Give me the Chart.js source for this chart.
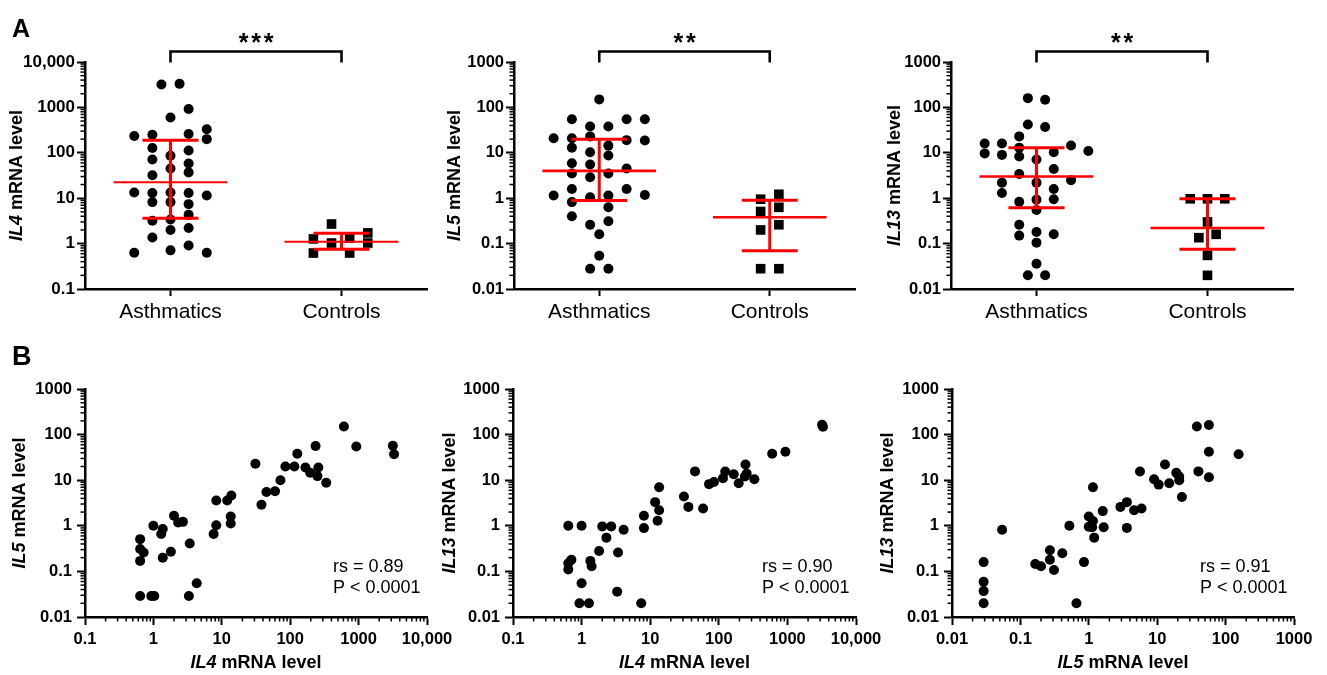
<!DOCTYPE html>
<html><head><meta charset="utf-8">
<script src="https://cdn.jsdelivr.net/npm/chart.js@4"></script>
<style>
html,body{margin:0;padding:0;background:#fff}
#wrap{position:relative;width:1327px;height:675px;overflow:hidden;background:#fff}
#wrap canvas{position:absolute;left:0;top:0}
</style></head><body>
<div id="wrap">
<canvas id="a1" width="1327" height="675"></canvas>
<canvas id="a2" width="1327" height="675"></canvas>
<canvas id="a3" width="1327" height="675"></canvas>
<canvas id="b1" width="1327" height="675"></canvas>
<canvas id="b2" width="1327" height="675"></canvas>
<canvas id="b3" width="1327" height="675"></canvas>
</div>
<script>
// ---------- DATA ----------
const groups = ['Asthmatics', 'Controls'];

// Panel A: IL4
const il4Asthma = [3200,3300,920,600,330,200,235,250,260,128,112,86,71,58,45,37,32,13.4,13,13.4,13,11.5,8.2,8.2,7.4,4.3,3.2,3.4,2.2,2.0,1.36,0.91,0.71,0.63,0.63];
const il4AsthmaSlot = [-0.5,0.5,1,0,2,2,-2,-1,1,-1,1,0,-1,1,0,1,-1,-2,-1,0,1,2,-1,0,1,1,-1,0,1,0,-1,1,0,-2,2];
const il4Control = [1.27,0.62,2.7,1.03,1.33,0.62,1.72,1.03];
const il4ControlSlot = [-1.55,-1.55,-0.55,-0.55,0.45,0.45,1.45,1.45];
const il4Median = [22.5, 1.1];
const il4Q1 = [3.6, 0.75];
const il4Q3 = [190, 1.69];

// Panel A: IL5
const il5Asthma = [150,55,55,55,38,38,21,21,23,19,18.6,14.4,13,10.3,8.7,5.9,5.5,4.5,3.5,3.5,2.9,1.15,1.18,1.15,1.05,1.6,1.6,0.82,0.63,0.40,0.26,0.31,0.16,0.054,0.028,0.028];
const il5AsthmaSlot = [0,-1.5,1.5,2.5,-0.5,0.5,-2.5,-1.5,-0.5,1.5,2.5,0.5,-1.5,-0.5,0.5,-1.5,-0.5,1.5,-1.5,0.5,-0.5,-2.5,2.5,0.5,-0.5,1.5,-1.5,-1.5,0.5,-1.5,-0.5,0.5,0,0,-0.5,0.5];
const il5Control = [0.95,1.22,0.51,0.63,0.2,0.26,0.028,0.028];
const il5ControlSlot = [-0.5,0.5,-0.5,0.5,-0.5,0.5,-0.5,0.5];
const il5Median = [4.0, 0.38];
const il5Q1 = [0.89, 0.07];
const il5Q3 = [20, 0.9];

// Panel A: IL13
const il13Asthma = [160,148,42,37,23,16,16,14.5,13,9.7,9,8.3,10.3,11,7.1,4.4,3.4,2.5,2.2,2.2,1.6,1.3,0.83,0.93,0.95,0.55,0.26,0.15,0.18,0.16,0.105,0.036,0.02,0.02];
const il13AsthmaSlot = [-0.5,0.5,-0.5,0.5,-1,-3,-2,2,-1,-3,-2,-1,1,3,0,1,-1,2,-2,0,1,-2,-1,0,1,0,-1,-1,0,1,0,0,-0.5,0.5];
const il13Control = [0.97,0.97,0.97,0.3,0.135,0.16,0.055,0.02];
const il13ControlSlot = [-1,0,1,0,-0.5,0.5,0,0];
const il13Median = [3.0, 0.22];
const il13Q1 = [0.62, 0.075];
const il13Q3 = [13, 0.97];

// Panel B: correlations
const b1IL4 = [610,925,3170,3300,235,127,31,85,115,167,196,258,250,336,72,45,60,38,8.3,12,13.8,13.5,13.5,8.3,7.6,2.0,2.3,2.7,1.0,1.37,1.3,3.4,0.64,0.64,0.72,1.8,1.37,0.64,4.3,0.64,0.93,1.03,3.3];
const b1IL5 = [150,55,57,37,56,38,23,20,20,19,14.6,19,12.3,8.8,10,5.5,5.7,2.9,3.6,3.6,4.6,1.6,1.12,1.03,0.66,1.66,1.18,1.22,1.0,0.85,0.66,0.41,0.51,0.31,0.26,0.27,0.20,0.17,0.055,0.029,0.029,0.029,0.029];
const b2IL4 = [3200,3300,600,935,45,245,124,165,255,240,330,115,85,72,195,13.5,31,36,59,11.8,13.5,12.8,8.1,8.1,0.64,1.0,2.0,2.7,4.1,2.3,1.8,3.4,0.71,0.64,0.64,1.34,1.4,1.0,3.3,0.93,1.28,7.4];
const b2IL13 = [165,148,38,42,15.6,22,15.5,13.5,14,12,10.5,11,9.1,8.2,8.6,7.0,4.4,2.6,2.4,3.3,2.2,1.29,1.66,0.89,1.0,1.0,0.97,0.97,0.82,0.55,0.28,0.26,0.18,0.15,0.11,0.17,0.13,0.055,0.036,0.02,0.02,0.02];
const b3IL5 = [57,38,57,155,40,57,13,19,21,21,9,10.5,15,23,5.6,1.15,2.9,3.6,4.6,5.9,3.6,1.6,1.0,1.15,1.0,1.12,1.65,1.2,0.52,0.054,0.41,0.27,0.27,0.31,0.85,0.165,0.20,0.029,0.029,0.029,0.029,0.66];
const b3IL13 = [163,150,42,37,15.6,11.6,22,14.6,12,10,10.5,8,8.6,4.3,15.5,7,2.6,3.3,2.2,2.4,0.9,2.1,1.6,1.27,0.95,0.93,0.93,0.55,1.0,0.82,0.25,0.29,0.18,0.107,0.16,0.145,0.13,0.16,0.059,0.037,0.02,0.02];
const b1Stat = ['rs = 0.89', 'P < 0.0001'];
const b2Stat = ['rs = 0.90', 'P < 0.0001'];
const b3Stat = ['rs = 0.91', 'P < 0.0001'];

// Tick labels
const ticks01to10k = [0.1, 1, 10, 100, 1000, 10000];
const labels01to10k = ['0.1', '1', '10', '100', '1000', '10,000'];
const ticks001to1k = [0.01, 0.1, 1, 10, 100, 1000];
const labels001to1k = ['0.01', '0.1', '1', '10', '100', '1000'];

// ---------- STYLE ----------
const FF = '"Liberation Sans", Arial, Helvetica, sans-serif';
Chart.defaults.font.family = FF;
Chart.defaults.color = '#000';
const RED = '#ff0000';
const YW = 75, XH = 40, PAGE_W = 1327, PAGE_H = 675;
const MED_HW = 0.333, CAP_HW = 0.164;

const deco = {
  id: 'deco',
  afterDraw(chart, args, o) {
    const ctx = chart.ctx, ca = chart.chartArea;
    const xs = chart.scales.x, ys = chart.scales.y;
    ctx.save();
    ctx.strokeStyle = '#000';
    ctx.fillStyle = '#000';
    // minor ticks on log axes
    ctx.lineWidth = 1.5;
    const minor = (scale, horiz) => {
      if (scale.type !== 'logarithmic') return;
      const lo = Math.round(Math.log10(scale.min)), hi = Math.round(Math.log10(scale.max));
      for (let e = lo; e < hi; e++) {
        for (let k = 2; k <= 9; k++) {
          const p = scale.getPixelForValue(k * Math.pow(10, e));
          ctx.beginPath();
          if (horiz) { ctx.moveTo(p, ca.bottom); ctx.lineTo(p, ca.bottom + 4.5); }
          else { ctx.moveTo(ca.left, p); ctx.lineTo(ca.left - 4.5, p); }
          ctx.stroke();
        }
      }
    };
    minor(xs, true);
    minor(ys, false);

    const mixed = (parts, size) => {
      ctx.font = 'italic bold ' + size + 'px ' + FF;
      const w1 = ctx.measureText(parts[0]).width;
      ctx.font = 'bold ' + size + 'px ' + FF;
      const w2 = ctx.measureText(parts[1]).width;
      const x0 = -(w1 + w2) / 2;
      ctx.textAlign = 'left';
      ctx.textBaseline = 'middle';
      ctx.font = 'italic bold ' + size + 'px ' + FF;
      ctx.fillText(parts[0], x0, 0);
      ctx.font = 'bold ' + size + 'px ' + FF;
      ctx.fillText(parts[1], x0 + w1, 0);
    };
    // y title
    if (o.yTitle) {
      ctx.save();
      ctx.translate(ca.left - o.yOff, (ca.top + ca.bottom) / 2);
      ctx.rotate(-Math.PI / 2);
      mixed(o.yTitle, 18);
      ctx.restore();
    }
    // x title
    if (o.xTitle) {
      ctx.save();
      ctx.translate((ca.left + ca.right) / 2, ca.bottom + 46);
      mixed(o.xTitle, 18);
      ctx.restore();
    }
    // significance bracket
    if (o.stars) {
      const x1 = xs.getPixelForValue(1), x2 = xs.getPixelForValue(2);
      const yb = ca.top - 10.5;
      ctx.lineWidth = 2.6;
      ctx.beginPath();
      ctx.moveTo(x1, ca.top + 0.5); ctx.lineTo(x1, yb); ctx.lineTo(x2, yb); ctx.lineTo(x2, ca.top + 0.5);
      ctx.stroke();
      ctx.font = 'bold 25px ' + FF;
      ctx.textAlign = 'center';
      ctx.textBaseline = 'alphabetic';
      const m = ctx.measureText('*');
      const base = (ca.top - 24.5) + (m.actualBoundingBoxAscent - m.actualBoundingBoxDescent) / 2;
      const cx = (x1 + x2) / 2;
      for (let i = 0; i < o.stars; i++) {
        ctx.fillText('*', cx + (i - (o.stars - 1) / 2) * 12.5, base);
      }
    }
    // panel letter
    if (o.letter) {
      ctx.font = 'bold ' + o.letterSize + 'px ' + FF;
      ctx.textAlign = 'left';
      ctx.textBaseline = 'alphabetic';
      ctx.fillText(o.letter, 12, o.letterY);
    }
    // stats text
    if (o.stat) {
      ctx.font = '18px ' + FF;
      ctx.textAlign = 'left';
      ctx.textBaseline = 'middle';
      ctx.fillText(o.stat[0], ca.right - 94, ca.bottom - 50);
      ctx.fillText(o.stat[1], ca.right - 94, ca.bottom - 29);
    }
    ctx.restore();
  }
};

function logAxis(vals, labels, size, pad, fit) {
  return {
    type: 'logarithmic',
    min: vals[0], max: vals[vals.length - 1],
    border: { display: true, width: 2.5, color: '#000' },
    grid: { drawOnChartArea: false, drawTicks: true, tickLength: 8, tickWidth: 2, tickColor: '#000' },
    ticks: { autoSkip: false, maxRotation: 0, padding: pad, color: '#000',
      font: { size: size, weight: 'bold' },
      callback: (v, i) => labels[i] },
    afterBuildTicks: s => { s.ticks = vals.map(v => ({ value: v })); },
    afterFit: fit
  };
}

function lineDs(pts, w) {
  return { type: 'scatter', data: pts.map(p => ({ x: p[0], y: p[1] })), showLine: true,
    borderColor: RED, borderWidth: w, pointRadius: 0, fill: false, clip: false, borderCapStyle: 'butt' };
}
function pointDs(vals, slots, g, step, style, r) {
  return { type: 'scatter', data: vals.map((v, i) => ({ x: g + slots[i] * step, y: v })),
    showLine: false, pointStyle: style, pointRadius: r, pointBackgroundColor: '#000',
    pointBorderWidth: 0, pointBorderColor: '#000', clip: false };
}

function dotPanel(id, rect, p) {
  const ds = [];
  const med = p.med, q1 = p.q1, q3 = p.q3;
  [1, 2].forEach((c, i) => {
    ds.push(lineDs([[c - MED_HW, med[i]], [c + MED_HW, med[i]]], p.medW));
    ds.push(lineDs([[c - CAP_HW, q1[i]], [c + CAP_HW, q1[i]]], 3));
    ds.push(lineDs([[c - CAP_HW, q3[i]], [c + CAP_HW, q3[i]]], 3));
    ds.push(lineDs([[c, q1[i]], [c, q3[i]]], 3));
  });
  ds.push(pointDs(p.asth, p.asthSlot, 1, p.step, 'circle', 5));
  ds.push(pointDs(p.ctrl, p.ctrlSlot, 2, p.step, 'rect', 6.8));
  new Chart(document.getElementById(id), {
    type: 'scatter',
    data: { datasets: ds },
    options: {
      responsive: false, animation: false, events: [],
      layout: { padding: { left: rect.L - YW, top: rect.T, right: PAGE_W - rect.R, bottom: PAGE_H - rect.B - XH } },
      plugins: { legend: { display: false }, tooltip: { enabled: false }, deco: p.deco },
      scales: {
        x: {
          type: 'linear', min: 0.5, max: 2.5,
          border: { display: true, width: 2.5, color: '#000' },
          grid: { drawOnChartArea: false, drawTicks: true, tickLength: 7, tickWidth: 2, tickColor: '#000' },
          ticks: { autoSkip: false, maxRotation: 0, padding: 3.5, color: '#000', font: { size: 21 },
            callback: (v, i) => groups[i] },
          afterBuildTicks: s => { s.ticks = [{ value: 1 }, { value: 2 }]; },
          afterFit: s => { s.height = XH; }
        },
        y: logAxis(p.yTicks, p.yLabels, p.yFont, 2, s => { s.width = YW; })
      }
    },
    plugins: [deco]
  });
}

function corrPanel(id, rect, p) {
  new Chart(document.getElementById(id), {
    type: 'scatter',
    data: { datasets: [{ data: p.x.map((v, i) => ({ x: v, y: p.y[i] })), pointRadius: 5,
      pointBackgroundColor: '#000', pointBorderWidth: 0, showLine: false, clip: false }] },
    options: {
      responsive: false, animation: false, events: [],
      layout: { padding: { left: rect.L - YW, top: rect.T, right: PAGE_W - rect.R, bottom: PAGE_H - rect.B - XH } },
      plugins: { legend: { display: false }, tooltip: { enabled: false }, deco: p.deco },
      scales: {
        x: logAxis(p.xTicks, p.xLabels, 16.5, 5, s => { s.height = XH; }),
        y: logAxis(p.yTicks, p.yLabels, 16.5, 5, s => { s.width = YW; })
      }
    },
    plugins: [deco]
  });
}

dotPanel('a1', { L: 85, R: 427, T: 62, B: 289 }, {
  asth: il4Asthma, asthSlot: il4AsthmaSlot, ctrl: il4Control, ctrlSlot: il4ControlSlot,
  med: il4Median, q1: il4Q1, q3: il4Q3, step: 0.106, medW: 2,
  yTicks: ticks01to10k, yLabels: labels01to10k, yFont: 17,
  deco: { letter: 'A', letterSize: 25, letterY: 37, yTitle: ['IL4', ' mRNA level'], yOff: 68, stars: 3 }
});
dotPanel('a2', { L: 514, R: 855, T: 62, B: 289 }, {
  asth: il5Asthma, asthSlot: il5AsthmaSlot, ctrl: il5Control, ctrlSlot: il5ControlSlot,
  med: il5Median, q1: il5Q1, q3: il5Q3, step: 0.107, medW: 2.6,
  yTicks: ticks001to1k, yLabels: labels001to1k, yFont: 16.5,
  deco: { yTitle: ['IL5', ' mRNA level'], yOff: 59, stars: 2 }
});
dotPanel('a3', { L: 951, R: 1293, T: 62, B: 289 }, {
  asth: il13Asthma, asthSlot: il13AsthmaSlot, ctrl: il13Control, ctrlSlot: il13ControlSlot,
  med: il13Median, q1: il13Q1, q3: il13Q3, step: 0.101, medW: 2.4,
  yTicks: ticks001to1k, yLabels: labels001to1k, yFont: 16.5,
  deco: { yTitle: ['IL13', ' mRNA level'], yOff: 56, stars: 2 }
});
corrPanel('b1', { L: 85, R: 427, T: 389, B: 617 }, {
  x: b1IL4, y: b1IL5, xTicks: ticks01to10k, xLabels: labels01to10k, yTicks: ticks001to1k, yLabels: labels001to1k,
  deco: { letter: 'B', letterSize: 27, letterY: 365, yTitle: ['IL5', ' mRNA level'], yOff: 65, xTitle: ['IL4', ' mRNA level'], stat: b1Stat }
});
corrPanel('b2', { L: 513, R: 856, T: 389, B: 617 }, {
  x: b2IL4, y: b2IL13, xTicks: ticks01to10k, xLabels: labels01to10k, yTicks: ticks001to1k, yLabels: labels001to1k,
  deco: { yTitle: ['IL13', ' mRNA level'], yOff: 63, xTitle: ['IL4', ' mRNA level'], stat: b2Stat }
});
corrPanel('b3', { L: 952, R: 1294, T: 389, B: 617 }, {
  x: b3IL5, y: b3IL13, xTicks: ticks001to1k, xLabels: labels001to1k, yTicks: ticks001to1k, yLabels: labels001to1k,
  deco: { yTitle: ['IL13', ' mRNA level'], yOff: 64, xTitle: ['IL5', ' mRNA level'], stat: b3Stat }
});
</script>
</body></html>
